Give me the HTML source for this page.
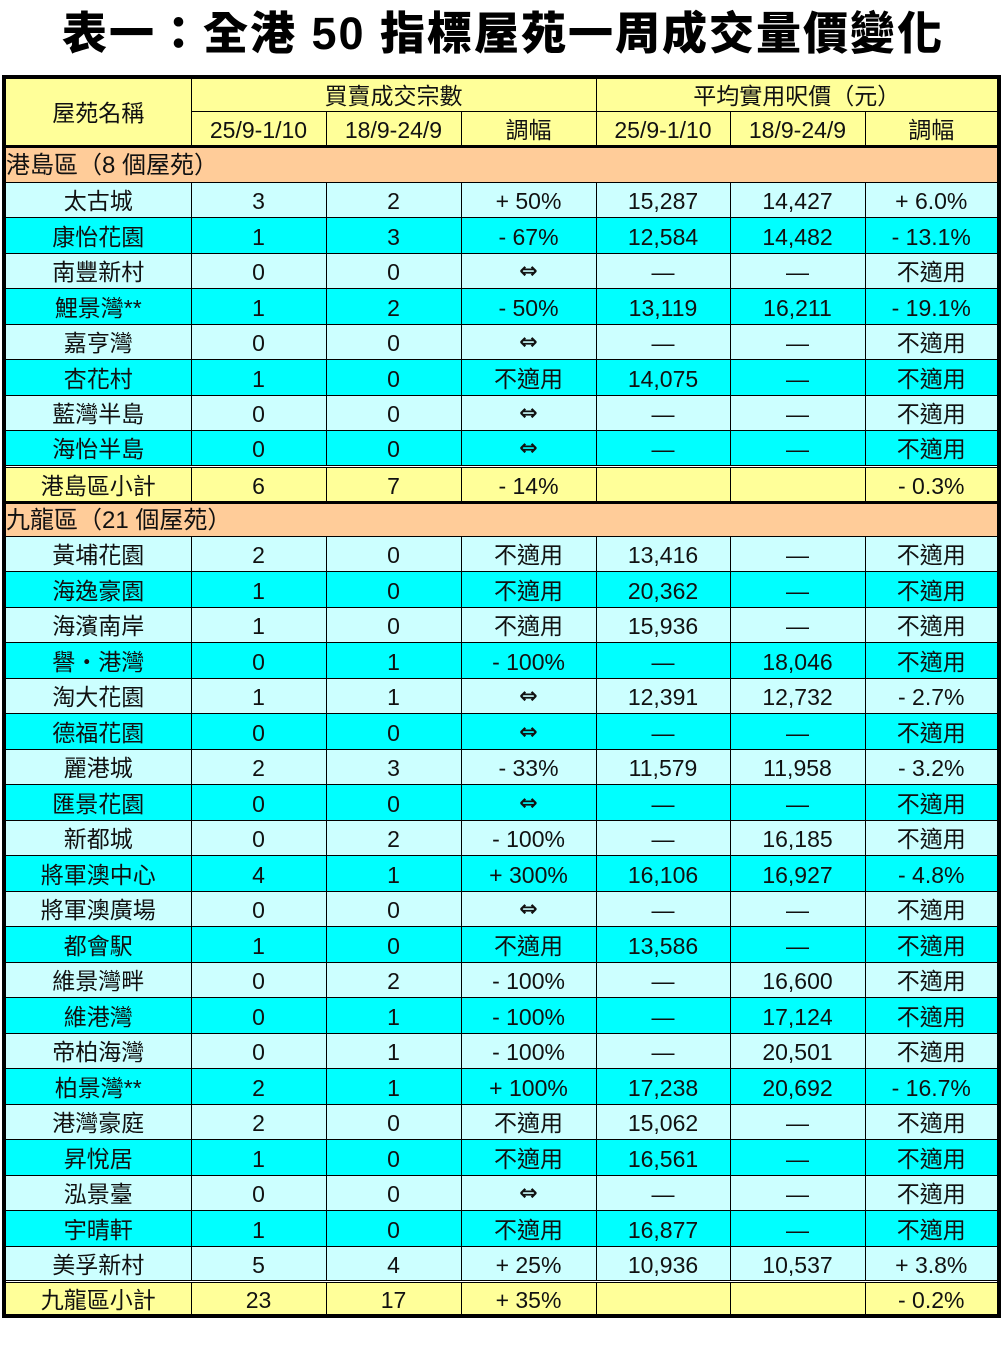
<!DOCTYPE html>
<html><head><meta charset="utf-8">
<style>
html,body{margin:0;padding:0;background:#fff;width:1006px;height:1359px;overflow:hidden}
body{font-family:"Liberation Sans","Noto Sans CJK TC",sans-serif;}
h1{position:absolute;left:0;top:5px;width:1006px;margin:0;text-align:center;font-size:45px;font-weight:900;line-height:58px;letter-spacing:2px;font-family:"Liberation Sans","Noto Sans CJK TC",sans-serif;}
table{position:absolute;left:2px;top:75px;border-collapse:collapse;table-layout:fixed;border:4px solid #000;}
td{border:1px solid #000;padding:0;padding-top:3px;text-align:center;font-size:23px;line-height:22px;white-space:nowrap;overflow:hidden;color:#111}
td.x{font-family:"DejaVu Sans",sans-serif;font-size:22px;font-weight:bold}
tr.h td{background:#FFFF99}
tr.s td{background:#FFCC99;text-align:left;border-left:none;border-right:none;font-size:24px}
tr.a td{background:#CCFFFF}
tr.b td{background:#00FFFF}
tr.t td{background:#FFFF99;border-top:3px double #000}
tr.t2 td{border-bottom:3px solid #000}
tr.hb td{border-bottom:3px solid #000}
tr.d{height:35.5px}
</style></head><body>
<h1>表一：全港 50 指標屋苑一周成交量價變化</h1>
<table>
<colgroup><col style="width:187px"><col style="width:135px"><col style="width:135px"><col style="width:135px"><col style="width:134px"><col style="width:135px"><col style="width:134px"></colgroup>
<tr class="h" style="height:34px"><td rowspan="2" style="border-bottom:3px solid #000">屋苑名稱</td><td colspan="3">買賣成交宗數</td><td colspan="3">平均實用呎價（元）</td></tr>
<tr class="h hb" style="height:35px"><td>25/9-1/10</td><td>18/9-24/9</td><td>調幅</td><td>25/9-1/10</td><td>18/9-24/9</td><td>調幅</td></tr>
<tr class="s" style="height:36px"><td colspan="7">港島區（8 個屋苑）</td></tr>
<tr class="a d"><td>太古城</td><td>3</td><td>2</td><td>+ 50%</td><td>15,287</td><td>14,427</td><td>+ 6.0%</td></tr>
<tr class="b d"><td>康怡花園</td><td>1</td><td>3</td><td>- 67%</td><td>12,584</td><td>14,482</td><td>- 13.1%</td></tr>
<tr class="a d"><td>南豐新村</td><td>0</td><td>0</td><td class="x">⇔</td><td>—</td><td>—</td><td>不適用</td></tr>
<tr class="b d"><td>鯉景灣**</td><td>1</td><td>2</td><td>- 50%</td><td>13,119</td><td>16,211</td><td>- 19.1%</td></tr>
<tr class="a d"><td>嘉亨灣</td><td>0</td><td>0</td><td class="x">⇔</td><td>—</td><td>—</td><td>不適用</td></tr>
<tr class="b d"><td>杏花村</td><td>1</td><td>0</td><td>不適用</td><td>14,075</td><td>—</td><td>不適用</td></tr>
<tr class="a d"><td>藍灣半島</td><td>0</td><td>0</td><td class="x">⇔</td><td>—</td><td>—</td><td>不適用</td></tr>
<tr class="b d"><td>海怡半島</td><td>0</td><td>0</td><td class="x">⇔</td><td>—</td><td>—</td><td>不適用</td></tr>
<tr class="t t2" style="height:36px"><td>港島區小計</td><td>6</td><td>7</td><td>- 14%</td><td></td><td></td><td>- 0.3%</td></tr>
<tr class="s" style="height:34px"><td colspan="7">九龍區（21 個屋苑）</td></tr>
<tr class="a d"><td>黃埔花園</td><td>2</td><td>0</td><td>不適用</td><td>13,416</td><td>—</td><td>不適用</td></tr>
<tr class="b d"><td>海逸豪園</td><td>1</td><td>0</td><td>不適用</td><td>20,362</td><td>—</td><td>不適用</td></tr>
<tr class="a d"><td>海濱南岸</td><td>1</td><td>0</td><td>不適用</td><td>15,936</td><td>—</td><td>不適用</td></tr>
<tr class="b d"><td>譽・港灣</td><td>0</td><td>1</td><td>- 100%</td><td>—</td><td>18,046</td><td>不適用</td></tr>
<tr class="a d"><td>淘大花園</td><td>1</td><td>1</td><td class="x">⇔</td><td>12,391</td><td>12,732</td><td>- 2.7%</td></tr>
<tr class="b d"><td>德福花園</td><td>0</td><td>0</td><td class="x">⇔</td><td>—</td><td>—</td><td>不適用</td></tr>
<tr class="a d"><td>麗港城</td><td>2</td><td>3</td><td>- 33%</td><td>11,579</td><td>11,958</td><td>- 3.2%</td></tr>
<tr class="b d"><td>匯景花園</td><td>0</td><td>0</td><td class="x">⇔</td><td>—</td><td>—</td><td>不適用</td></tr>
<tr class="a d"><td>新都城</td><td>0</td><td>2</td><td>- 100%</td><td>—</td><td>16,185</td><td>不適用</td></tr>
<tr class="b d"><td>將軍澳中心</td><td>4</td><td>1</td><td>+ 300%</td><td>16,106</td><td>16,927</td><td>- 4.8%</td></tr>
<tr class="a d"><td>將軍澳廣場</td><td>0</td><td>0</td><td class="x">⇔</td><td>—</td><td>—</td><td>不適用</td></tr>
<tr class="b d"><td>都會駅</td><td>1</td><td>0</td><td>不適用</td><td>13,586</td><td>—</td><td>不適用</td></tr>
<tr class="a d"><td>維景灣畔</td><td>0</td><td>2</td><td>- 100%</td><td>—</td><td>16,600</td><td>不適用</td></tr>
<tr class="b d"><td>維港灣</td><td>0</td><td>1</td><td>- 100%</td><td>—</td><td>17,124</td><td>不適用</td></tr>
<tr class="a d"><td>帝柏海灣</td><td>0</td><td>1</td><td>- 100%</td><td>—</td><td>20,501</td><td>不適用</td></tr>
<tr class="b d"><td>柏景灣**</td><td>2</td><td>1</td><td>+ 100%</td><td>17,238</td><td>20,692</td><td>- 16.7%</td></tr>
<tr class="a d"><td>港灣豪庭</td><td>2</td><td>0</td><td>不適用</td><td>15,062</td><td>—</td><td>不適用</td></tr>
<tr class="b d"><td>昇悅居</td><td>1</td><td>0</td><td>不適用</td><td>16,561</td><td>—</td><td>不適用</td></tr>
<tr class="a d"><td>泓景臺</td><td>0</td><td>0</td><td class="x">⇔</td><td>—</td><td>—</td><td>不適用</td></tr>
<tr class="b d"><td>宇晴軒</td><td>1</td><td>0</td><td>不適用</td><td>16,877</td><td>—</td><td>不適用</td></tr>
<tr class="a d"><td>美孚新村</td><td>5</td><td>4</td><td>+ 25%</td><td>10,936</td><td>10,537</td><td>+ 3.8%</td></tr>
<tr class="t" style="height:34px"><td>九龍區小計</td><td>23</td><td>17</td><td>+ 35%</td><td></td><td></td><td>- 0.2%</td></tr>
</table>
</body></html>
